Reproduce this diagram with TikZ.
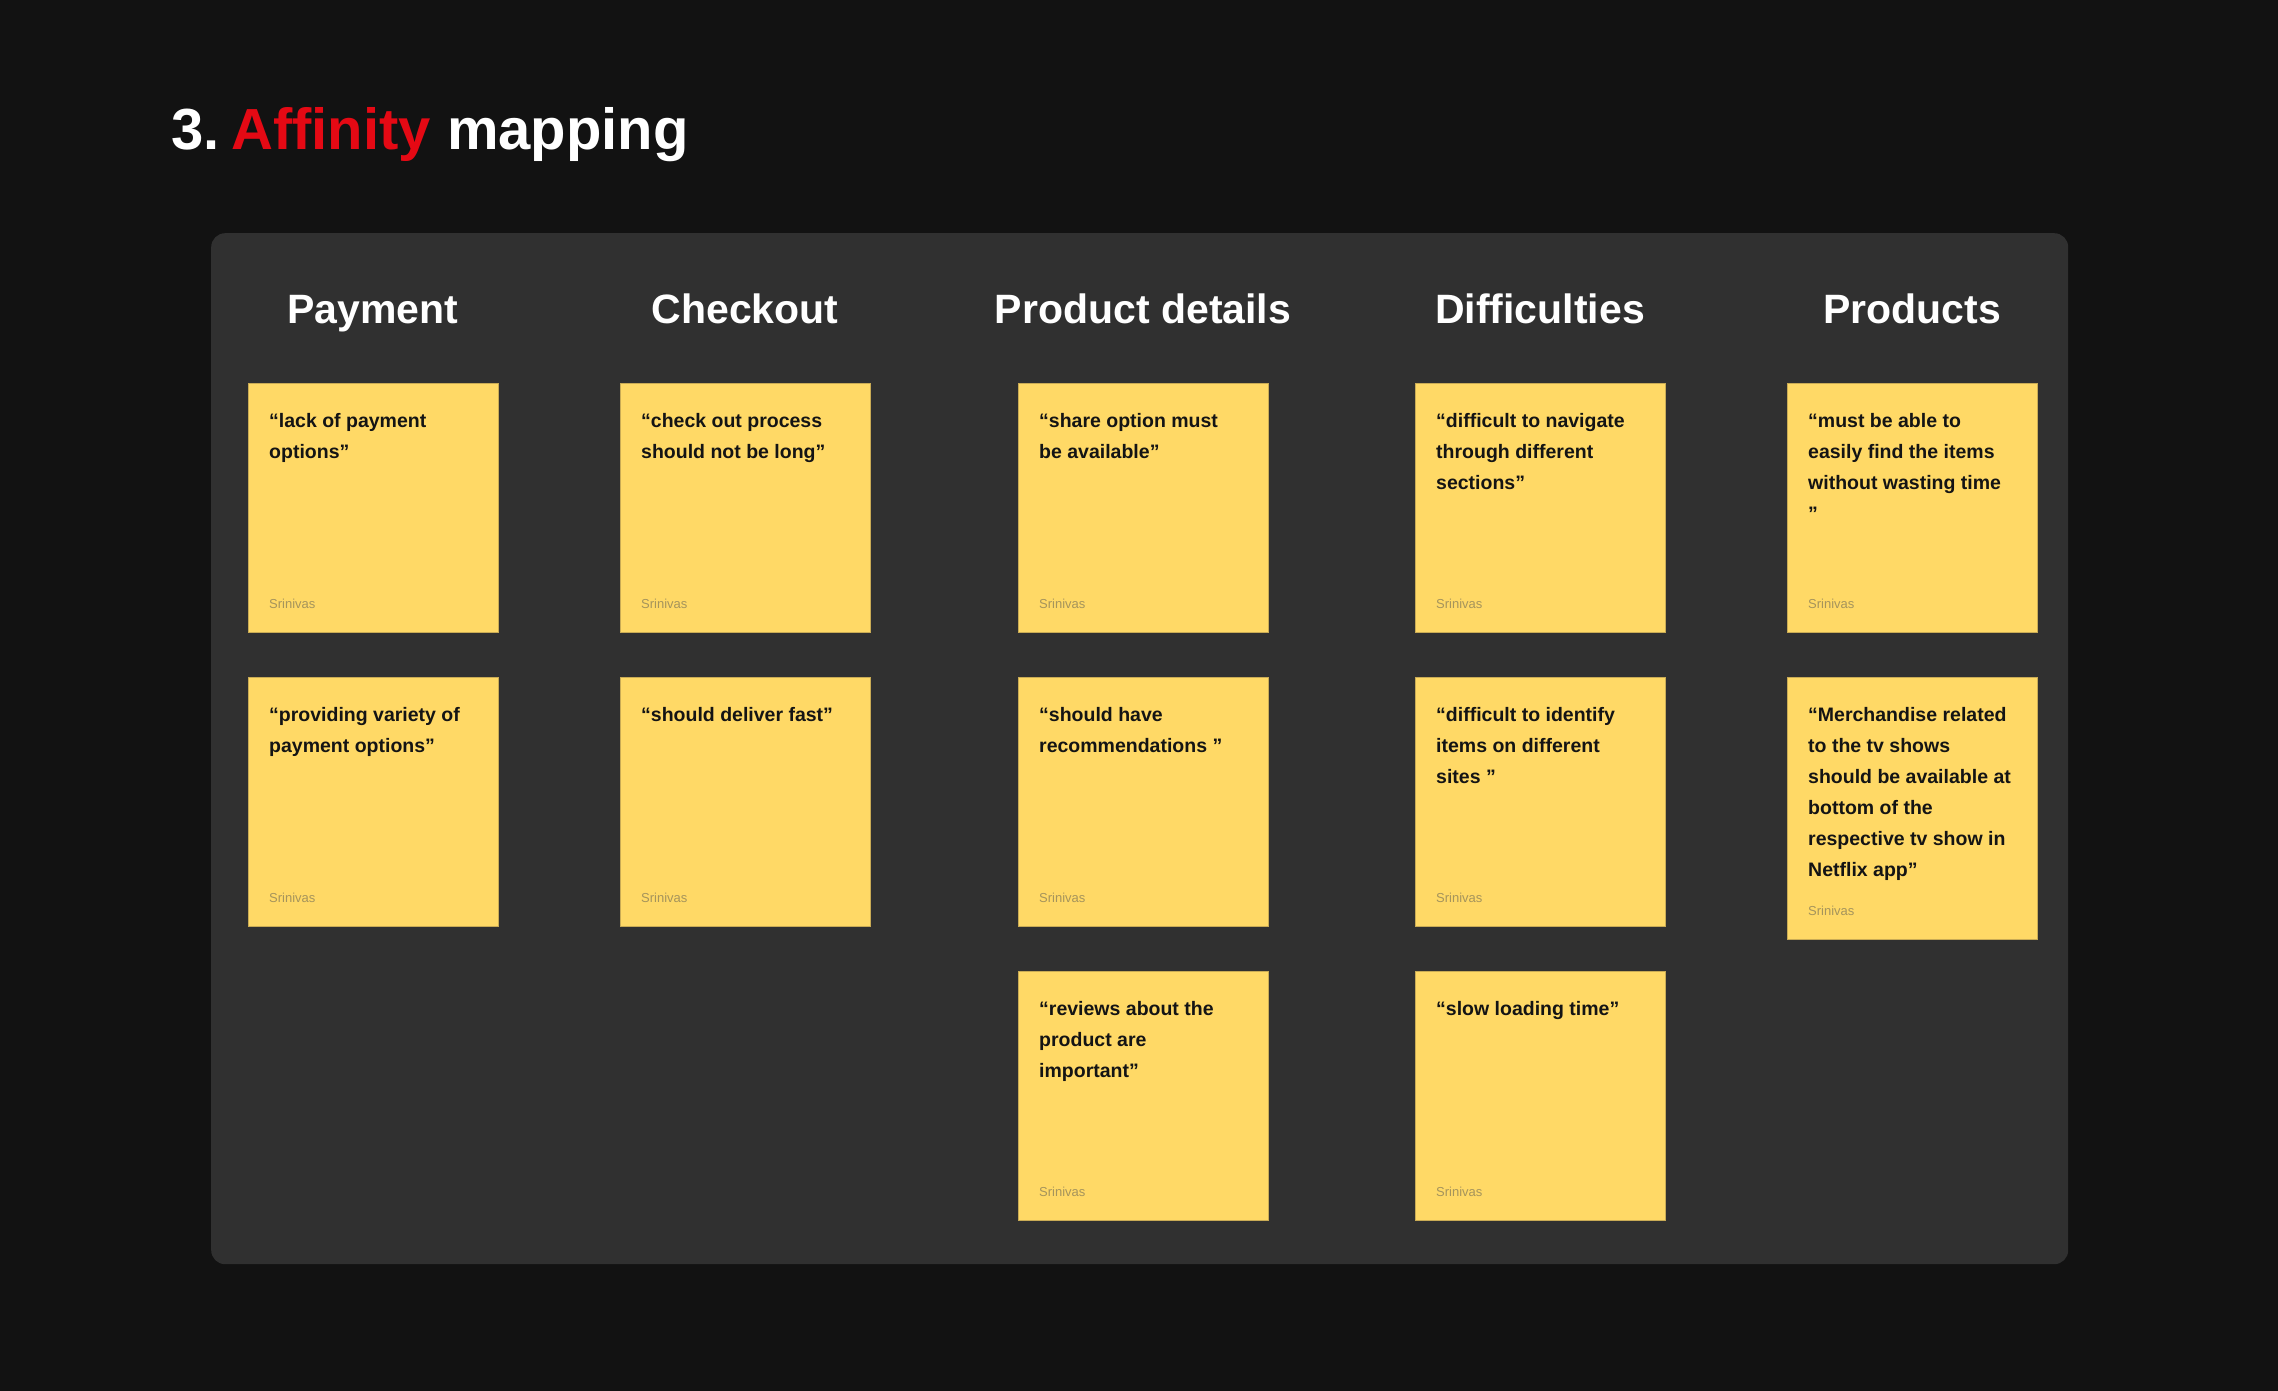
\documentclass[tikz,border=0pt]{standalone}
\usepackage{fontspec}
\setmainfont{Liberation Sans}
\definecolor{bgc}{HTML}{121212}
\definecolor{panelc}{HTML}{303030}
\definecolor{stickyc}{HTML}{FFD966}
\definecolor{stickyedge}{HTML}{C9AB55}
\definecolor{authorc}{HTML}{A5945C}
\definecolor{nred}{HTML}{E50914}
\definecolor{inkc}{HTML}{141414}
\tikzset{
  sticky/.style={fill=stickyc, draw=stickyedge, line width=0.8pt, minimum width=250pt, inner sep=0, anchor=north west},
  quotetext/.style={anchor=north west, inner sep=0, align=left, text=inkc, font=\bfseries\fontsize{19.5}{31}\selectfont},
  authortext/.style={anchor=base west, inner sep=0, text=authorc, font=\fontsize{13}{15}\selectfont},
  header/.style={anchor=base, inner sep=0, text=white, font=\bfseries\fontsize{41}{48}\selectfont},
}
\newcommand\stickynote[5]{%
  \node[sticky, minimum height=#4] (#1) at (#2,#3) {};
  \node[quotetext] (#1-q) at ([xshift=21pt,yshift=-30.5pt]#1.north west) {#5};
  \node[authortext] (#1-a) at ([xshift=21pt,yshift=24pt]#1.south west) {Srinivas};
}
\begin{document}
\begin{tikzpicture}[x=1pt,y=-1pt]
\fill[bgc] (0,0) rectangle (2278,1391);
\useasboundingbox (0,0) rectangle (2278,1391);
\node[anchor=base west, inner sep=0, text=white, font=\bfseries\fontsize{58}{70}\selectfont] (title) at (171,150) {3.\hspace{0.2em}{\color{nred}Affinity} mapping};
\node[fill=panelc, rounded corners=14pt, minimum width=1857pt, minimum height=1031pt, anchor=north west, inner sep=0] (board) at (211,233) {};
\node[header] (h1) at (373,323) {Payment};
\node[header] (h2) at (745,323) {Checkout};
\node[header] (h3) at (1143,323) {Product details};
\node[header] (h4) at (1540,323) {Difficulties};
\node[header] (h5) at (1912,323) {Products};
% Payment
\stickynote{p1}{248}{383}{249pt}{“lack of payment\\options”}
\stickynote{p2}{248}{677}{249pt}{“providing variety of\\payment options”}
% Checkout
\stickynote{c1}{620}{383}{249pt}{“check out process\\should not be long”}
\stickynote{c2}{620}{677}{249pt}{“should deliver fast”}
% Product details
\stickynote{d1}{1018}{383}{249pt}{“share option must\\be available”}
\stickynote{d2}{1018}{677}{249pt}{“should have\\recommendations ”}
\stickynote{d3}{1018}{971}{249pt}{“reviews about the\\product are\\important”}
% Difficulties
\stickynote{f1}{1415}{383}{249pt}{“difficult to navigate\\through different\\sections”}
\stickynote{f2}{1415}{677}{249pt}{“difficult to identify\\items on different\\sites ”}
\stickynote{f3}{1415}{971}{249pt}{“slow loading time”}
% Products
\stickynote{r1}{1787}{383}{249pt}{“must be able to\\easily find the items\\without wasting time\\”}
\stickynote{r2}{1787}{677}{262pt}{“Merchandise related\\to the tv shows\\should be available at\\bottom of the\\respective tv show in\\Netflix app”}
\end{tikzpicture}
\end{document}
